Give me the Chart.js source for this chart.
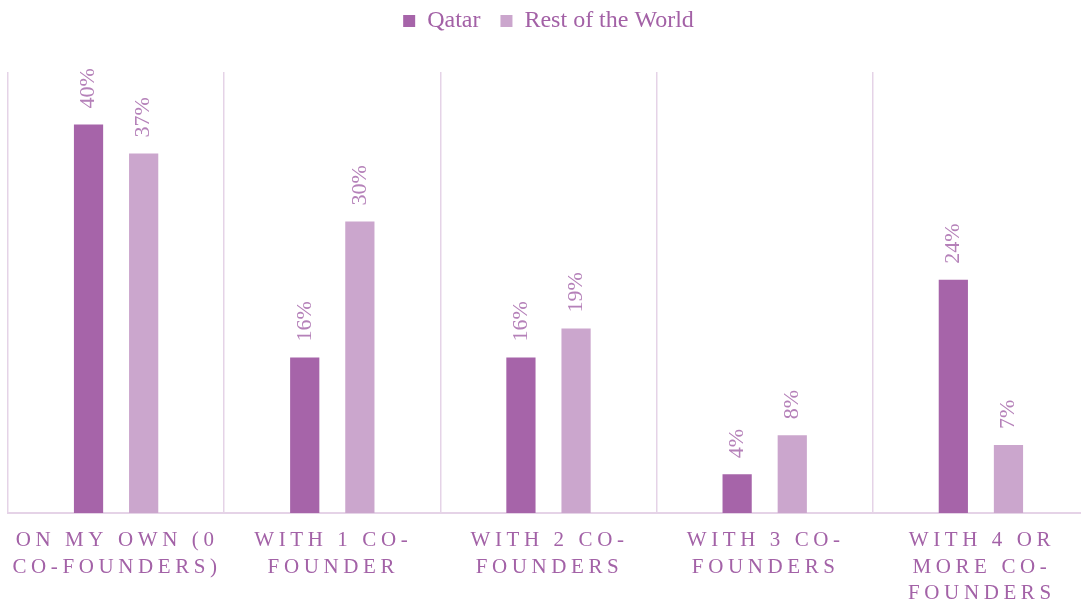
<!DOCTYPE html>
<html>
<head>
<meta charset="utf-8">
<title>Number of co-founders</title>
<script src="https://cdn.jsdelivr.net/npm/chart.js@4.4.1/dist/chart.umd.min.js"></script>
<style>
  html, body { margin: 0; padding: 0; background: #fff; overflow: hidden; }
  canvas { display: block; }
</style>
</head>
<body>
<canvas id="chart" width="1089" height="603"></canvas>
<script>
const categories = [
  ['ON MY OWN (0', 'CO-FOUNDERS)'],
  ['WITH 1 CO-', 'FOUNDER'],
  ['WITH 2 CO-', 'FOUNDERS'],
  ['WITH 3 CO-', 'FOUNDERS'],
  ['WITH 4 OR', 'MORE CO-', 'FOUNDERS'],
];
const seriesNames = ['Qatar', 'Rest of the World'];
const qatar = [40, 16, 16, 4, 24];
const restOfWorld = [37, 30, 19, 8, 7];

const SERIF = "'Liberation Serif', 'DejaVu Serif', serif";
const PLUM = '#a664a9';
const LILAC = '#cba6cd';
const GRID = '#e5d3e7';

// push the plot area down below the legend
const legendGap = {
  id: 'legendGap',
  beforeInit(chart) {
    const fit = chart.legend.fit;
    chart.legend.fit = function () {
      fit.call(this);
      this.height += 29;
    };
  },
};

// rotated value labels + letter-spaced category names
const labels = {
  id: 'labels',
  afterDatasetsDraw(chart) {
    const ctx = chart.ctx;
    ctx.save();
    ctx.font = `22px ${SERIF}`;
    ctx.fillStyle = '#b581b9';
    ctx.textAlign = 'left';
    ctx.textBaseline = 'middle';
    chart.data.datasets.forEach((ds, di) => {
      chart.getDatasetMeta(di).data.forEach((bar, i) => {
        ctx.save();
        ctx.translate(bar.x, bar.y - 16);
        ctx.rotate(-Math.PI / 2);
        ctx.fillText(ds.data[i] + '%', 0, 0);
        ctx.restore();
      });
    });

    const x = chart.scales.x;
    ctx.font = `21px ${SERIF}`;
    ctx.fillStyle = '#a362a7';
    ctx.letterSpacing = '4.6px';
    ctx.textAlign = 'center';
    ctx.textBaseline = 'alphabetic';
    categories.forEach((lines, i) => {
      const cx = x.getPixelForTick(i) + 1;
      lines.forEach((line, j) => {
        ctx.fillText(line, cx, x.top + 33 + j * 26.5);
      });
    });
    ctx.restore();
  },
};

new Chart(document.getElementById('chart').getContext('2d'), {
  type: 'bar',
  data: {
    labels: categories,
    datasets: [
      {
        label: seriesNames[0],
        data: qatar,
        backgroundColor: PLUM,
        categoryPercentage: 0.51,
        barPercentage: 0.53,
      },
      {
        label: seriesNames[1],
        data: restOfWorld,
        backgroundColor: LILAC,
        categoryPercentage: 0.51,
        barPercentage: 0.53,
      },
    ],
  },
  options: {
    responsive: false,
    animation: false,
    layout: {
      padding: { top: -11, left: 8, right: 0, bottom: 0 },
    },
    plugins: {
      legend: {
        position: 'top',
        labels: {
          boxWidth: 12,
          boxHeight: 12,
          padding: 20,
          color: '#a361a6',
          font: { family: SERIF, size: 24 },
        },
      },
      tooltip: { enabled: false },
    },
    scales: {
      x: {
        grid: {
          offset: true,
          color: GRID,
          lineWidth: 1.5,
          drawTicks: false,
        },
        border: { color: GRID, width: 2 },
        ticks: {
          // the names are painted by the labels plugin
          display: false,
        },
        afterFit(scale) {
          scale.height = 90;
        },
      },
      y: {
        display: false,
        min: 0,
        max: 45.4,
      },
    },
  },
  plugins: [legendGap, labels],
});
</script>
</body>
</html>
